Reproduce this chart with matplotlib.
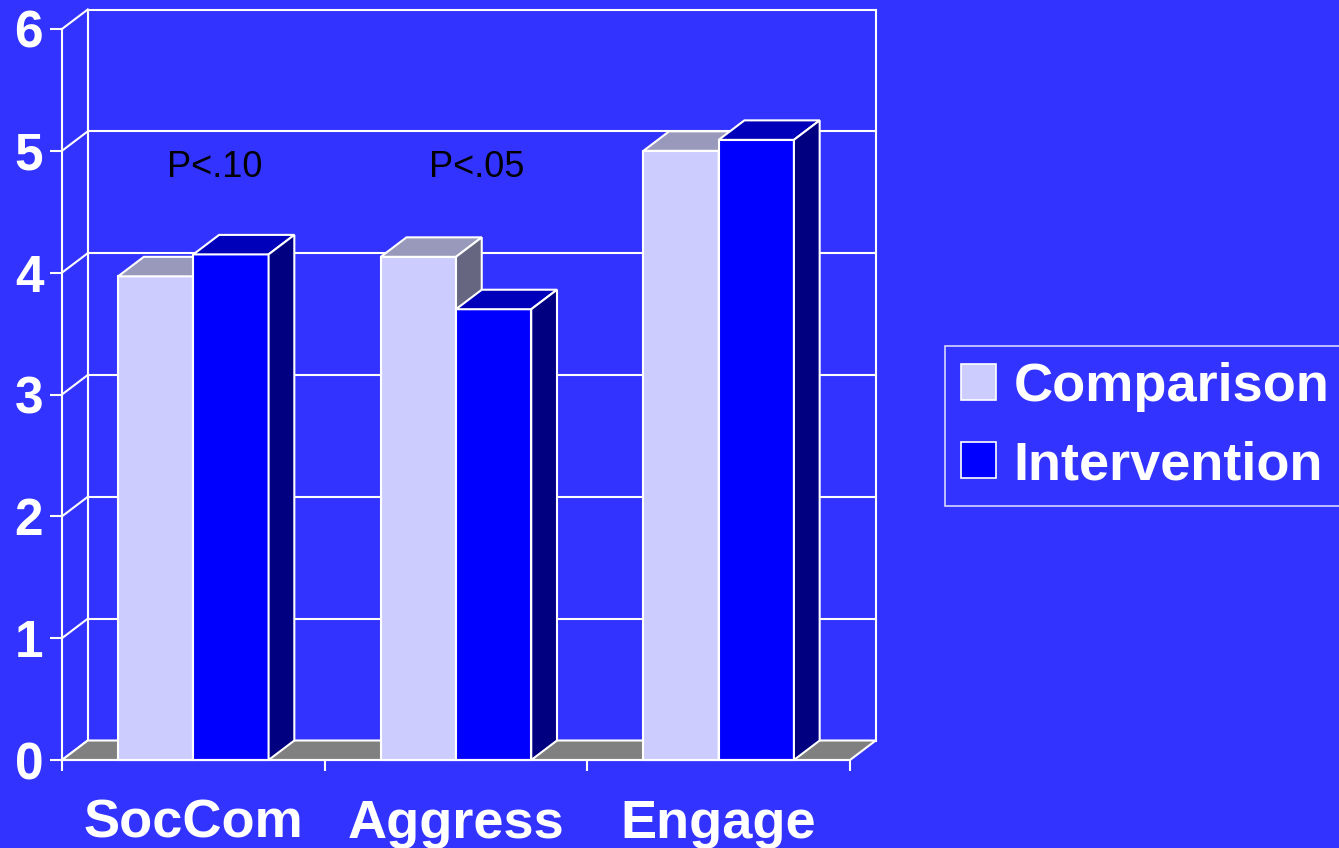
import matplotlib
matplotlib.use("Agg")
import matplotlib.pyplot as plt
from matplotlib.patches import Polygon, Patch

# --- Dados ---
categorias = ["SocCom", "Aggress", "Engage"]
comparison = [3.97, 4.13, 5.00]
intervention = [4.15, 3.70, 5.09]
p_labels = ["P<.10", "P<.05"]

# --- Estilo ---
BG = "#3333FF"
CORES = {
    "Comparison": ("#CCCCFF", "#9999BB", "#666680"),
    "Intervention": ("#0000FF", "#0000BB", "#000080"),
}
FLOOR = "#808080"
W = 1339
H = 848
DX = 0.098   # profundidade em x (unidades de categoria)
DY = 0.16    # profundidade em y (unidades de valor)
BAR_W = 0.2865
YMAX = 6

plt.rcParams["font.family"] = ["Liberation Sans", "DejaVu Sans"]

fig = plt.figure(figsize=(W / 100, H / 100), dpi=100, facecolor=BG)
ax = fig.add_axes([62 / W, (H - 760) / H, 788 / W, (760 - 29) / H])
ax.set_facecolor("none")
ax.set_xlim(0, len(categorias))
ax.set_ylim(0, YMAX)

lw = 1.5
ncat = len(categorias)

# parede do fundo + grades
for k in range(YMAX + 1):
    ax.plot([0, DX], [k, k + DY], color="white", lw=lw, zorder=1, clip_on=False)
    ax.plot([DX, ncat + DX], [k + DY, k + DY], color="white", lw=lw, zorder=1, clip_on=False)
ax.plot([DX, DX], [DY, YMAX + DY], color="white", lw=lw, zorder=1, clip_on=False)
ax.plot([ncat + DX, ncat + DX], [DY, YMAX + DY], color="white", lw=lw, zorder=1, clip_on=False)

# piso
ax.add_patch(Polygon([(0, 0), (ncat, 0), (ncat + DX, DY), (DX, DY)], closed=True,
                     facecolor=FLOOR, edgecolor="white", lw=lw, zorder=2, clip_on=False))


def bar3d(x0, h, cores, z):
    frente, topo, lado = cores
    x1 = x0 + BAR_W
    ax.add_patch(Polygon([(x0, 0), (x1, 0), (x1, h), (x0, h)], closed=True,
                         facecolor=frente, edgecolor="white", lw=lw, zorder=z, clip_on=False))
    ax.add_patch(Polygon([(x0, h), (x1, h), (x1 + DX, h + DY), (x0 + DX, h + DY)], closed=True,
                         facecolor=topo, edgecolor="white", lw=lw, zorder=z, clip_on=False))
    ax.add_patch(Polygon([(x1, 0), (x1 + DX, DY), (x1 + DX, h + DY), (x1, h)], closed=True,
                         facecolor=lado, edgecolor="white", lw=lw, zorder=z, clip_on=False))


for i in range(ncat):
    centro = i + 0.5
    bar3d(centro - BAR_W, comparison[i], CORES["Comparison"], 3 + 2 * i)
    bar3d(centro, intervention[i], CORES["Intervention"], 4 + 2 * i)

# textos de significância
for i, txt in enumerate(p_labels):
    ax.text(i + 0.58, 4.86, txt, ha="center", va="center", fontsize=26,
            color="black", zorder=20)

# eixos
for s in ["top", "right"]:
    ax.spines[s].set_visible(False)
for s in ["left", "bottom"]:
    ax.spines[s].set_color("white")
    ax.spines[s].set_linewidth(lw)
    ax.spines[s].set_zorder(30)

ax.set_yticks(range(YMAX + 1))
ax.set_yticklabels([str(k) for k in range(YMAX + 1)], fontsize=37,
                   fontweight="bold", color="white")
ax.tick_params(axis="y", colors="white", length=8.5, width=lw, pad=5)

ax.set_xticks(range(ncat + 1))
ax.set_xticklabels([])
ax.tick_params(axis="x", which="major", colors="white", length=8, width=lw)
ax.set_xticks([i + 0.5 for i in range(ncat)], minor=True)
ax.set_xticklabels(categorias, minor=True, fontsize=39, fontweight="bold", color="white")
ax.tick_params(axis="x", which="minor", length=0, pad=28)

# legenda
handles = [Patch(facecolor=CORES[n][0], edgecolor="white", lw=1.2, label=n)
           for n in ["Comparison", "Intervention"]]
leg = fig.legend(handles=handles, loc="center left",
                 bbox_to_anchor=(945 / W, 1 - 426 / H), borderaxespad=0,
                 frameon=True, fancybox=False, facecolor=BG, edgecolor="white",
                 prop={"size": 39, "weight": "bold"},
                 handlelength=0.64, handleheight=0.64, handletextpad=0.33,
                 borderpad=0.3, labelspacing=0.52)
leg.get_frame().set_linewidth(1.2)
for t in leg.get_texts():
    t.set_color("white")

fig.savefig("out.png", dpi=100, facecolor=BG)
